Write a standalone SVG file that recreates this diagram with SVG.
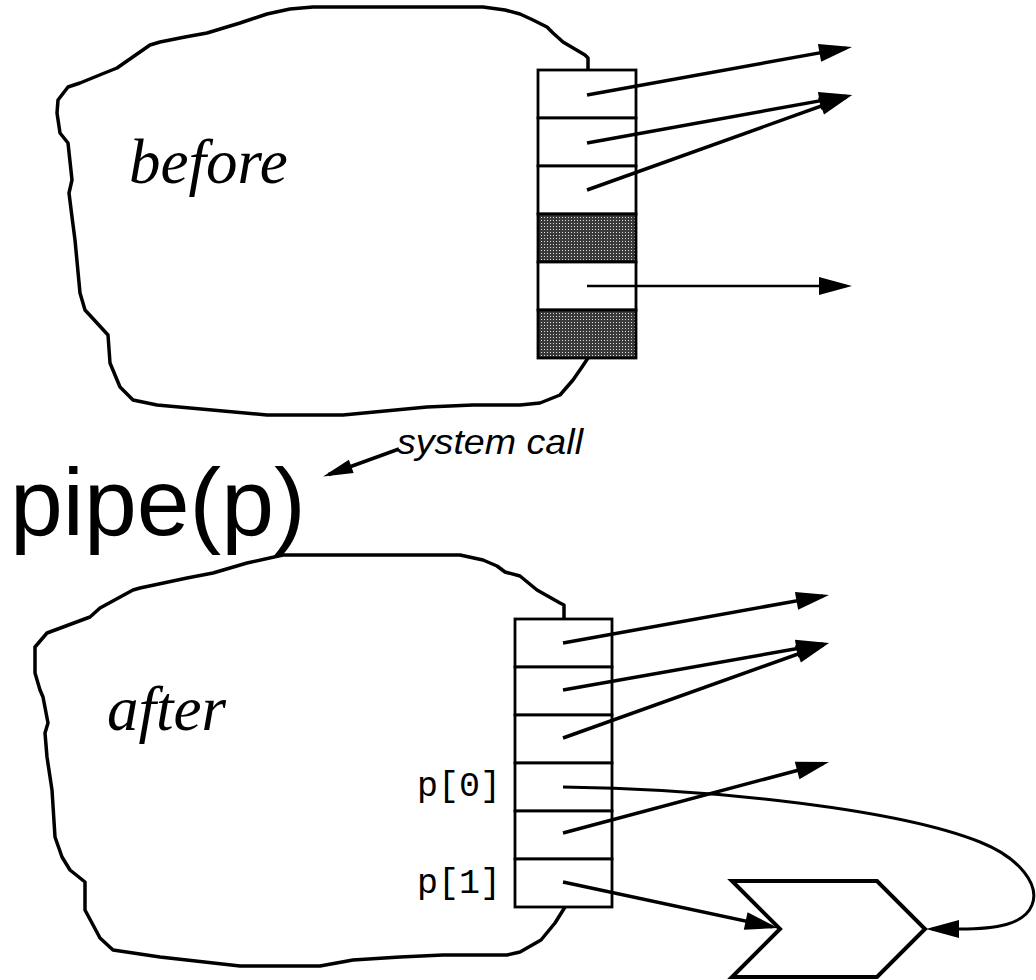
<svg xmlns="http://www.w3.org/2000/svg" width="1036" height="980" viewBox="0 0 1036 980">
  <style>
    .blob { fill: none; stroke: #000; stroke-width: 3.5; stroke-linejoin: round; stroke-linecap: round; }
    .cell { fill: #fff; stroke: #000; stroke-width: 2.8; }
    .shade { fill: url(#stipple); stroke: #000; stroke-width: 2.8; }
    .arrow { fill: none; stroke: #000; stroke-width: 3.5; marker-end: url(#ah); }
    .thin { stroke-width: 2.6; }
    .curve { fill: none; stroke: #000; stroke-width: 3; marker-end: url(#ah); }
    .serif { font-family: "Liberation Serif", "Times New Roman", serif; font-style: italic; font-size: 63px; fill: #000; }
    .mono { font-family: "Liberation Mono", "Courier New", monospace; font-size: 35px; fill: #000; }
    .sans { font-family: "Liberation Sans", Arial, sans-serif; fill: #000; }
    .chev { fill: #fff; stroke: #000; stroke-width: 4; stroke-linejoin: miter; }
  </style>
  <defs>
    <pattern id="stipple" width="3" height="3" patternUnits="userSpaceOnUse">
      <rect width="3" height="3" fill="#3a3a3a"/>
      <rect x="1" y="1" width="1" height="1" fill="#e0e0e0"/>
    </pattern>
    <marker id="ah" markerUnits="userSpaceOnUse" viewBox="-30 -10 40 20" markerWidth="40" markerHeight="20" refX="0" refY="0" orient="auto" overflow="visible">
      <path d="M6,0 L-27,-9 L-27,9 Z" fill="#000"/>
    </marker>
    <marker id="ahs" markerUnits="userSpaceOnUse" viewBox="-30 -10 40 20" markerWidth="40" markerHeight="20" refX="0" refY="0" orient="auto" overflow="visible">
      <path d="M6,0 L-24,-7 L-24,7 Z" fill="#000"/>
    </marker>
  </defs>

  <rect width="1036" height="980" fill="#fff"/>

  <!-- BEFORE process -->
  <g id="before-process">
    <path class="blob" d="M588,70 L588,58 L585,55 L563,42 L553,33 L547,27 L533,20 L520,14 L505,10 L483,7 L313,7 L290,9 L267,14 L240,23 L207,33 L185,37 L160,42 L150,45 L117,68 L107,72 L80,83 L68,87 L58,100 L57,113 L60,133 L68,143 L72,180 L69,193 L72,217 L75,240 L80,293 L85,310 L97,323 L108,335 L110,363 L120,387 L133,400 L157,405 L267,415 L343,415 L427,407 L473,405 L520,405 L540,403 L560,395 L573,380 L582,367 L588,358"/>
    <text class="serif" x="129" y="183">before</text>
  </g>

  <g id="before-table">
    <rect class="cell" x="538" y="70" width="98" height="48"/>
    <rect class="cell" x="538" y="118" width="98" height="48"/>
    <rect class="cell" x="538" y="166" width="98" height="48"/>
    <rect class="shade" x="538" y="214" width="98" height="48"/>
    <rect class="cell" x="538" y="262" width="98" height="48"/>
    <rect class="shade" x="538" y="310" width="98" height="48"/>
  </g>

  <!-- system call label -->
  <g id="syscall">
    <text class="sans" x="10" y="535" font-size="95">pipe(p)</text>
    <text class="sans" x="397" y="454" font-size="35" font-style="italic" textLength="186" lengthAdjust="spacingAndGlyphs">system call</text>
  </g>

  <!-- AFTER process -->
  <g id="after-process">
    <path class="blob" d="M564,619 L564,605 L560,603 L537,590 L520,576 L505,572 L497,566 L483,560 L460,555 L283,555 L247,563 L213,573 L187,578 L140,588 L133,590 L100,608 L90,617 L47,633 L35,647 L35,673 L40,690 L43,697 L48,723 L45,733 L47,757 L52,790 L55,837 L62,857 L70,870 L85,882 L85,910 L100,938 L113,950 L160,957 L240,966 L320,966 L353,960 L400,957 L443,955 L507,955 L520,952 L541,940 L555,923 L565,907"/>
    <text class="serif" x="107" y="730">after</text>
    <text class="mono" x="417" y="796">p[0]</text>
    <text class="mono" x="417" y="893">p[1]</text>
  </g>

  <g id="after-table">
    <rect class="cell" x="515" y="619" width="97" height="48"/>
    <rect class="cell" x="515" y="667" width="97" height="48"/>
    <rect class="cell" x="515" y="715" width="97" height="48"/>
    <rect class="cell" x="515" y="763" width="97" height="48"/>
    <rect class="cell" x="515" y="811" width="97" height="48"/>
    <rect class="cell" x="515" y="859" width="97" height="48"/>
  </g>

  <!-- pipe object -->
  <g id="pipe">
    <polygon class="chev" points="732,881 877,881 925,929 877,977 732,977 780,929"/>
  </g>

  <!-- connectors -->
  <g id="connectors">
    <path class="arrow" d="M587,95 L846.1,48.1"/>
    <path class="arrow" d="M587,143 L846.1,96.1"/>
    <path class="arrow" d="M587,190 L846.4,97"/>
    <path class="arrow thin" d="M587,286 L846,286"/>

    <path d="M399,449 L328.7,474.5" fill="none" stroke="#000" stroke-width="3.5" marker-end="url(#ahs)"/>

    <path class="arrow" d="M563,643 L823.1,596.1"/>
    <path class="arrow" d="M563,690 L823.1,644"/>
    <path class="arrow" d="M563,738 L823.3,645"/>
    <path class="arrow" d="M563,833 L823.2,763.5"/>
    <path class="arrow" d="M563,882 L772.1,926.7"/>
    <path class="curve" d="M563,787 C720,789 900,810 980,842 C1020,858 1040,885 1032,905 C1024,925 995,929 960,929 L932,929"/>
  </g>
</svg>
